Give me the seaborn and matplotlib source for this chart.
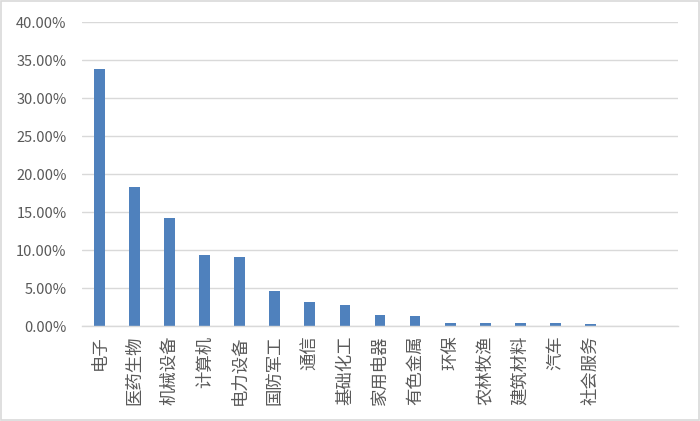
import matplotlib
matplotlib.use("Agg")
import matplotlib.pyplot as plt
import seaborn as sns
import pandas as pd
from matplotlib.ticker import FuncFormatter, MultipleLocator

categories = ["电子", "医药生物", "机械设备", "计算机", "电力设备", "国防军工", "通信",
              "基础化工", "家用电器", "有色金属", "环保", "农林牧渔", "建筑材料", "汽车", "社会服务"]
values = [33.85, 18.27, 14.23, 9.31, 9.09, 4.65, 3.20, 2.72, 1.45, 1.32, 0.45, 0.35, 0.35, 0.35, 0.20]

sns.set_theme(style="white")
plt.rcParams['font.family'] = ['Noto Sans CJK SC', 'DejaVu Sans']

df = pd.DataFrame({"cat": categories, "val": values})

fig = plt.figure(figsize=(7.0, 4.21), dpi=100)
fig.patch.set_facecolor("white")
ax = fig.add_axes([82/700, 95/421, 596/700, 303.7/421])

sns.barplot(data=df, x="cat", y="val", color="#4F81BD", width=0.31, ax=ax,
            saturation=1, edgecolor="none")

ax.set_xlim(-0.5, 16.5)
ax.set_ylim(0, 40)
ax.yaxis.set_major_locator(MultipleLocator(5))
ax.yaxis.set_major_formatter(FuncFormatter(lambda v, p: f"{v:.2f}%"))
ax.grid(axis="y", color="#D9D9D9", linewidth=1.0)
ax.set_axisbelow(True)
for s in ["top", "right", "left"]:
    ax.spines[s].set_visible(False)
ax.spines["bottom"].set_color("#D9D9D9")
ax.spines["bottom"].set_linewidth(1.0)
ax.set_xlabel("")
ax.set_ylabel("")
ax.tick_params(axis="both", length=0, colors="#595959")
ax.tick_params(axis="y", pad=11, labelsize=10.5)
ax.tick_params(axis="x", pad=7, labelsize=12.5)
for lbl in ax.get_xticklabels():
    lbl.set_rotation(90)
    lbl.set_fontweight("light")
for lbl in ax.get_yticklabels():
    lbl.set_fontweight("light")

border = plt.Rectangle((0.002, 0.003), 0.996, 0.994, transform=fig.transFigure,
                       fill=False, edgecolor="#D9D9D9", linewidth=1.2)
fig.add_artist(border)

fig.savefig("out.png", dpi=100, facecolor="white")
